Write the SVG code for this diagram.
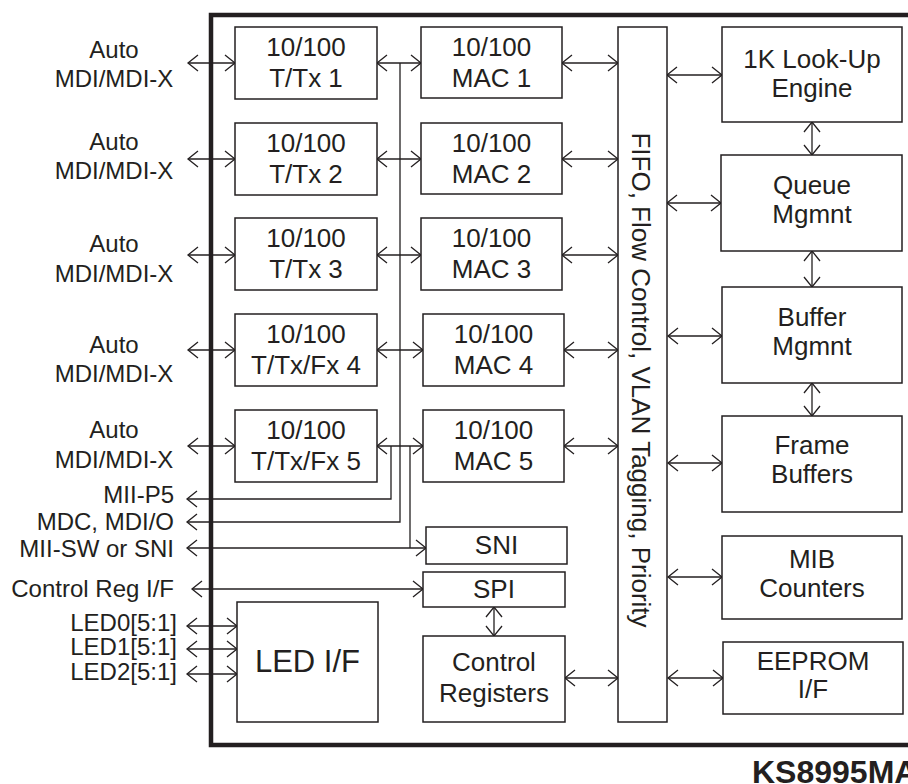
<svg xmlns="http://www.w3.org/2000/svg" width="908" height="784" viewBox="0 0 908 784">
<style>
text{font-family:"Liberation Sans",Arial,sans-serif;fill:#231f20}
.b{font-size:26px;text-anchor:middle}
.l{font-size:24px}
.c{text-anchor:middle}
.e{text-anchor:end}
.box{fill:#fff;stroke:#231f20;stroke-width:1.5}
.cn{fill:none;stroke:#231f20;stroke-width:1.3}
.a2{marker-start:url(#ah);marker-end:url(#ah)}
.a1{marker-start:url(#ah)}
</style>
<defs>
<marker id="ah" viewBox="-12 -10 14 20" refX="0" refY="0" markerWidth="14" markerHeight="20" markerUnits="userSpaceOnUse" orient="auto-start-reverse" overflow="visible">
<path d="M-10,-8 L0,0 L-10,8" fill="none" stroke="#231f20" stroke-width="1.3"/>
</marker>
</defs>
<rect width="908" height="784" fill="#fff"/>
<path id="frame" d="M910 15 H211 V745 H910" fill="none" stroke="#231f20" stroke-width="4.5"/>

<g id="connectors">
<line class="cn a2" x1="188" y1="63" x2="235" y2="63"/>
<line class="cn a2" x1="188" y1="159" x2="235" y2="159"/>
<line class="cn a2" x1="188" y1="255" x2="235" y2="255"/>
<line class="cn a2" x1="188" y1="350" x2="235" y2="350"/>
<line class="cn a2" x1="188" y1="446" x2="235" y2="446"/>
<line class="cn a2" x1="377" y1="63" x2="421" y2="63"/>
<line class="cn a2" x1="377" y1="159" x2="421" y2="159"/>
<line class="cn a2" x1="377" y1="255" x2="421" y2="255"/>
<line class="cn a2" x1="377" y1="350" x2="423" y2="350"/>
<line class="cn a2" x1="377" y1="446" x2="423" y2="446"/>
<line class="cn a2" x1="562" y1="63" x2="618" y2="63"/>
<line class="cn a2" x1="562" y1="159" x2="618" y2="159"/>
<line class="cn a2" x1="562" y1="255" x2="618" y2="255"/>
<line class="cn a2" x1="564" y1="350" x2="618" y2="350"/>
<line class="cn a2" x1="564" y1="446" x2="618" y2="446"/>
<line class="cn a2" x1="565" y1="678" x2="618" y2="678"/>
<line class="cn a2" x1="667" y1="75" x2="722" y2="75"/>
<line class="cn a2" x1="667" y1="203" x2="721" y2="203"/>
<line class="cn a2" x1="668" y1="336" x2="722" y2="336"/>
<line class="cn a2" x1="668" y1="463" x2="722" y2="463"/>
<line class="cn a2" x1="668" y1="577" x2="722" y2="577"/>
<line class="cn a2" x1="668" y1="678" x2="723" y2="678"/>
<line class="cn a2" x1="812" y1="122" x2="812" y2="155"/>
<line class="cn a2" x1="812" y1="251" x2="812" y2="287"/>
<line class="cn a2" x1="812" y1="383" x2="812" y2="416"/>
<line class="cn a2" x1="494" y1="607" x2="494" y2="636"/>
<polyline class="cn a1" points="187,499 391,499 391,446"/>
<polyline class="cn a1" points="187,522 400,522 400,63"/>
<line class="cn a2" x1="187" y1="548" x2="426" y2="548"/>
<line class="cn" x1="410" y1="446" x2="410" y2="548"/>
<line class="cn a2" x1="192" y1="589" x2="423" y2="589"/>
<line class="cn a2" x1="187" y1="626" x2="237" y2="626"/>
<line class="cn a2" x1="187" y1="649" x2="237" y2="649"/>
<line class="cn a2" x1="187" y1="674" x2="237" y2="674"/>
</g>

<g id="labels" class="l">
<text class="c" x="114" y="58">Auto</text><text class="c" x="114" y="87">MDI/MDI-X</text>
<text class="c" x="114" y="150">Auto</text><text class="c" x="114" y="179">MDI/MDI-X</text>
<text class="c" x="114" y="252">Auto</text><text class="c" x="114" y="282">MDI/MDI-X</text>
<text class="c" x="114" y="353">Auto</text><text class="c" x="114" y="382">MDI/MDI-X</text>
<text class="c" x="114" y="438">Auto</text><text class="c" x="114" y="468">MDI/MDI-X</text>
<text class="e" x="174" y="503">MII-P5</text>
<text class="e" x="174" y="530">MDC, MDI/O</text>
<text class="e" x="174" y="557">MII-SW or SNI</text>
<text class="e" x="174" y="597">Control Reg I/F</text>
<text class="e" x="177" y="631">LED0[5:1]</text>
<text class="e" x="177" y="655">LED1[5:1]</text>
<text class="e" x="177" y="680">LED2[5:1]</text>
</g>

<g id="ttx1"><rect class="box" x="235" y="27" width="142" height="72"/><text class="b" x="306" y="56">10/100</text><text class="b" x="306" y="87">T/Tx 1</text></g>
<g id="ttx2"><rect class="box" x="235" y="123" width="142" height="72"/><text class="b" x="306" y="152">10/100</text><text class="b" x="306" y="183">T/Tx 2</text></g>
<g id="ttx3"><rect class="box" x="235" y="218" width="142" height="72"/><text class="b" x="306" y="247">10/100</text><text class="b" x="306" y="278">T/Tx 3</text></g>
<g id="ttx4"><rect class="box" x="235" y="314" width="142" height="72"/><text class="b" x="306" y="343">10/100</text><text class="b" x="306" y="374">T/Tx/Fx 4</text></g>
<g id="ttx5"><rect class="box" x="235" y="410" width="142" height="72"/><text class="b" x="306" y="439">10/100</text><text class="b" x="306" y="470">T/Tx/Fx 5</text></g>

<g id="mac1"><rect class="box" x="421" y="27" width="141" height="71"/><text class="b" x="491.5" y="56">10/100</text><text class="b" x="491.5" y="87">MAC 1</text></g>
<g id="mac2"><rect class="box" x="421" y="123" width="141" height="71"/><text class="b" x="491.5" y="152">10/100</text><text class="b" x="491.5" y="183">MAC 2</text></g>
<g id="mac3"><rect class="box" x="421" y="218" width="141" height="72"/><text class="b" x="491.5" y="247">10/100</text><text class="b" x="491.5" y="278">MAC 3</text></g>
<g id="mac4"><rect class="box" x="423" y="314" width="141" height="72"/><text class="b" x="493.5" y="343">10/100</text><text class="b" x="493.5" y="374">MAC 4</text></g>
<g id="mac5"><rect class="box" x="423" y="410" width="141" height="72"/><text class="b" x="493.5" y="439">10/100</text><text class="b" x="493.5" y="470">MAC 5</text></g>

<g id="sni"><rect class="box" x="426" y="527" width="141" height="37"/><text class="b" x="496.5" y="554">SNI</text></g>
<g id="spi"><rect class="box" x="423" y="572" width="142" height="35"/><text class="b" x="494" y="598">SPI</text></g>
<g id="ctrlregs"><rect class="box" x="423" y="636" width="142" height="86"/><text class="b" x="494" y="671">Control</text><text class="b" x="494" y="702">Registers</text></g>
<g id="ledif"><rect class="box" x="237" y="602" width="141" height="120"/><text x="307.5" y="672" style="font-size:31px;text-anchor:middle">LED I/F</text></g>

<g id="fifo"><rect class="box" x="618" y="27" width="49" height="695"/><text class="b" transform="translate(632,380) rotate(90)">FIFO, Flow Control, VLAN Tagging, Priority</text></g>

<g id="lookup"><rect class="box" x="722" y="27" width="180" height="95"/><text class="b" x="812" y="68">1K Look-Up</text><text class="b" x="812" y="97">Engine</text></g>
<g id="queue"><rect class="box" x="721" y="155" width="181" height="96"/><text class="b" x="812" y="194">Queue</text><text class="b" x="812" y="223">Mgmnt</text></g>
<g id="buffer"><rect class="box" x="722" y="287" width="180" height="96"/><text class="b" x="812" y="326">Buffer</text><text class="b" x="812" y="355">Mgmnt</text></g>
<g id="frame-buffers"><rect class="box" x="722" y="416" width="180" height="96"/><text class="b" x="812" y="454">Frame</text><text class="b" x="812" y="483">Buffers</text></g>
<g id="mib"><rect class="box" x="722" y="536" width="180" height="83"/><text class="b" x="812" y="568">MIB</text><text class="b" x="812" y="597">Counters</text></g>
<g id="eeprom"><rect class="box" x="723" y="642" width="180" height="72"/><text class="b" x="813" y="670">EEPROM</text><text class="b" x="813" y="698">I/F</text></g>

<text id="title" x="752" y="783" style="font-size:32px;font-weight:bold">KS8995MA</text>
</svg>
